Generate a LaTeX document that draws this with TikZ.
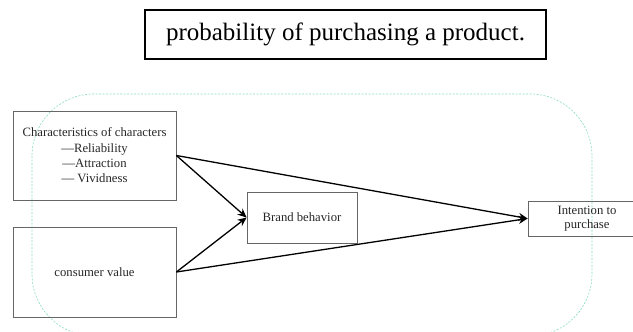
\documentclass[tikz,border=0pt]{standalone}
\usepackage{fontspec}
\setmainfont{Liberation Serif}
\usetikzlibrary{arrows.meta}
\begin{document}
\begin{tikzpicture}[x=1pt,y=-1pt,
  box/.style={draw=black!60, line width=0.8pt, inner sep=2pt, align=center, font=\fontsize{12.7}{15.3}\selectfont, text=black!85},
  conn/.style={line width=1.3pt, -{Stealth[length=9pt,width=8pt]}},
  boundary/.style={draw={rgb,255:red,140;green,220;blue,190}, dashed, dash pattern=on 2pt off 1.5pt, line width=0.6pt, rounded corners=62pt}]
\useasboundingbox (0,0) rectangle (633,332);
\draw[boundary] (32,94) rectangle (592,336);
\node[draw=black, line width=1.3pt, minimum width=401pt, minimum height=49pt, inner sep=0pt, font=\fontsize{25}{29}\selectfont] (title) at (345.5,34.5) {probability of purchasing a product.};
\node[box, minimum width=163pt, minimum height=89pt] (chars) at (94.5,155.5) {Characteristics of characters\\—Reliability\\—Attraction\\— Vividness};
\node[box, minimum width=163pt, minimum height=90pt] (value) at (94.5,272) {consumer value};
\node[box, minimum width=110pt, minimum height=51pt] (brand) at (302,217.5) {Brand behavior};
\node[box, minimum width=118pt, minimum height=35pt, font=\fontsize{12.7}{14}\selectfont] (intent) at (587,218.5) {Intention to\\ purchase};
\draw[conn] (chars.east) -- (brand.west);
\draw[conn] (value.east) -- (brand.west);
\draw[conn] (chars.east) -- (intent.west);
\draw[conn] (value.east) -- (intent.west);
\end{tikzpicture}
\end{document}
